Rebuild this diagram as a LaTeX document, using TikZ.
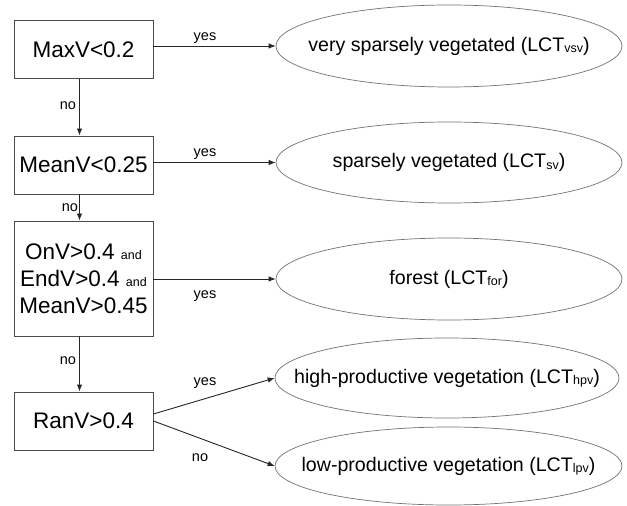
\documentclass[tikz,border=0pt]{standalone}
\usepackage{fontspec}
\setmainfont{Liberation Sans}
\usetikzlibrary{shapes.geometric,arrows.meta}
\newcommand{\sbs}[1]{\raisebox{-0.08em}{\fontsize{12.5bp}{12.5bp}\selectfont #1}}
\newcommand{\andsm}{\fontsize{12.5bp}{12.5bp}\selectfont and}
\newcommand{\zw}[1]{\makebox[0pt]{#1}}
\tikzset{
  box/.style={draw=black!70, line width=0.9bp, rectangle, minimum width=139bp, inner sep=0pt,
    font=\fontsize{22.5bp}{27bp}\selectfont, align=center},
  leaf/.style={draw=black!55, line width=0.7bp, ellipse, inner sep=0pt,
    font=\fontsize{19.6bp}{24bp}\selectfont},
  arr/.style={draw=black!85, line width=0.9bp, -{Latex[length=7bp,width=5.5bp]}},
  lbl/.style={inner sep=0pt, font=\fontsize{14.5bp}{17bp}\selectfont}
}
\begin{document}
\begin{tikzpicture}[x=1bp,y=-1bp]
\useasboundingbox (0,0) rectangle (627,506);
\fill[white] (0,0) rectangle (627,506);
% decision boxes
\node[box, minimum height=58bp] (B1) at (83.5,49.5) {MaxV<0.2};
\node[box, minimum height=58bp] (B2) at (83.5,165) {MeanV<0.25};
\node[box, minimum height=115bp] (B3) at (83.5,278.5) {OnV>0.4 \andsm\\EndV>0.4 \andsm\\MeanV>0.45};
\node[box, minimum height=58bp] (B4) at (83.5,421) {RanV>0.4};
% leaves
\node[leaf, minimum width=346bp, minimum height=82bp] (E1) at (449,46) {\zw{very sparsely vegetated (LCT\sbs{vsv})}};
\node[leaf, minimum width=346bp, minimum height=81bp] (E2) at (449,162.5) {\zw{sparsely vegetated (LCT\sbs{sv})}};
\node[leaf, minimum width=346bp, minimum height=82bp] (E3) at (449,279) {\zw{forest (LCT\sbs{for})}};
\node[leaf, minimum width=344bp, minimum height=80bp] (E4) at (447,378) {\zw{high-productive vegetation (LCT\sbs{hpv})}};
\node[leaf, minimum width=347bp, minimum height=78bp] (E5) at (448.5,466) {\zw{low-productive vegetation (LCT\sbs{lpv})}};
% connectors
\draw[arr] (B1.east |- E1.west) -- (E1.west);
\draw[arr] (B2.east |- E2.west) -- (E2.west);
\draw[arr] (B3.east |- E3.west) -- (E3.west);
\draw[arr] ([xshift=-4bp]B1.south) -- ([xshift=-4bp]B2.north);
\draw[arr] ([xshift=-4bp]B2.south) -- ([xshift=-4bp]B3.north);
\draw[arr] ([xshift=-4bp]B3.south) -- ([xshift=-4bp]B4.north);
\draw[arr] ([yshift=7bp]B4.east) -- (E4.west);
\draw[arr] (B4.east) -- (E5.west);
% labels
\node[lbl] (y1) at (205,38) {yes};
\node[lbl] (n1) at (68,106) {no};
\node[lbl] (y2) at (205,154) {yes};
\node[lbl] (n2) at (70,208) {no};
\node[lbl] (y3) at (205,296) {yes};
\node[lbl] (n3) at (68,361) {no};
\node[lbl] (y4) at (205,383) {yes};
\node[lbl] (n4) at (200,458) {no};
\end{tikzpicture}
\end{document}
